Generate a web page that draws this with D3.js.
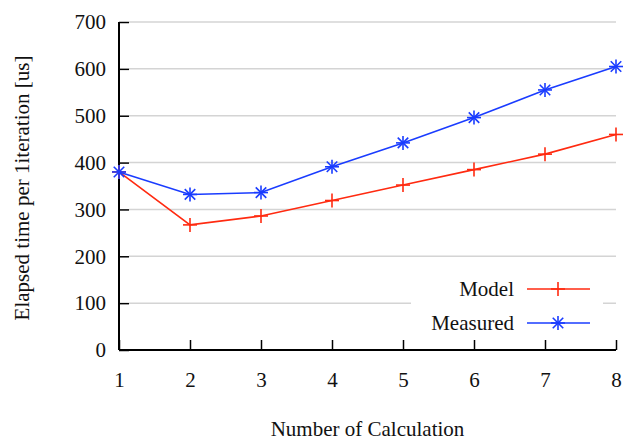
<!DOCTYPE html>
<html>
<head>
<meta charset="utf-8">
<script src="https://cdn.jsdelivr.net/npm/d3@7"></script>
<style>
  body { margin: 0; background: #fff; }
  svg text { font-family: "Liberation Serif", "Times New Roman", serif; fill: #111; }
</style>
</head>
<body>
<div id="chart"></div>
<script>
var calcs = [1, 2, 3, 4, 5, 6, 7, 8];
var model = [380, 267, 286, 319, 352, 385, 418, 460];
var measured = [380, 332, 336, 391, 442, 496, 555, 605];
var yTicks = [0, 100, 200, 300, 400, 500, 600, 700];

var width = 631, height = 440;
var mLeft = 119, mRight = 616, mTop = 22, mBottom = 350;
var fs = 21;

var svg = d3.select("#chart").append("svg")
    .attr("width", width)
    .attr("height", height)
    .attr("font-family", "Liberation Serif, serif");

var x = d3.scaleLinear().domain([1, 8]).range([mLeft, mRight]);
var y = d3.scaleLinear().domain([0, 700]).range([mBottom, mTop]);

// grid lines
svg.append("g").selectAll("line")
    .data(yTicks.slice(1))
    .enter().append("line")
    .attr("x1", mLeft + 10).attr("x2", mRight)
    .attr("y1", function(d) { return y(d); })
    .attr("y2", function(d) { return y(d); })
    .attr("stroke", "#d4d4d4")
    .attr("stroke-width", 1.5);

// axes
var yAxis = d3.axisLeft(y).tickValues(yTicks).tickSize(-10).tickPadding(13);
var gy = svg.append("g").attr("transform", "translate(" + mLeft + ",0)").call(yAxis);

var xAxis = d3.axisBottom(x).tickValues(calcs).tickSize(-10).tickPadding(22).tickFormat(d3.format("d"));
var gx = svg.append("g").attr("transform", "translate(0," + mBottom + ")").call(xAxis);

[gx, gy].forEach(function(g) {
    g.attr("font-size", null).attr("font-family", "Liberation Serif, serif");
    g.select(".domain").attr("stroke", "#000").attr("stroke-width", 2);
    g.selectAll(".tick line").attr("stroke", "#000").attr("stroke-width", 1.5);
    g.selectAll(".tick text").attr("font-size", fs).attr("fill", "#111");
});
gx.select(".domain").attr("d", "M" + mLeft + ",0H" + mRight);
gy.select(".domain").attr("d", "M0," + mBottom + "V" + mTop);

// axis titles
svg.append("text")
    .attr("x", (mLeft + mRight) / 2)
    .attr("y", 436)
    .attr("text-anchor", "middle")
    .attr("font-size", fs)
    .text("Number of Calculation");

svg.append("text")
    .attr("transform", "translate(29,188) rotate(-90)")
    .attr("text-anchor", "middle")
    .attr("font-size", fs)
    .text("Elapsed time per 1iteration [us]");

var series = [
    { name: "Model", values: model, color: "#ff2a10", marker: "plus" },
    { name: "Measured", values: measured, color: "#1a3cff", marker: "star" }
];

var line = d3.line()
    .x(function(d, i) { return x(calcs[i]); })
    .y(function(d) { return y(d); });

function drawMarker(g, cx, cy, type, color) {
    var s = 7;
    var segs = [[-s, 0, s, 0], [0, -s, 0, s]];
    if (type === "star") {
        var k = s * 0.75;
        segs.push([-k, -k, k, k], [-k, k, k, -k]);
    }
    segs.forEach(function(sg) {
        g.append("line")
            .attr("x1", cx + sg[0]).attr("y1", cy + sg[1])
            .attr("x2", cx + sg[2]).attr("y2", cy + sg[3])
            .attr("stroke", color).attr("stroke-width", 1.6);
    });
}

// legend box (white background interrupting the grid)
svg.append("rect")
    .attr("x", 411).attr("y", 272)
    .attr("width", 192).attr("height", 68)
    .attr("fill", "#fff");

series.forEach(function(s, si) {
    var g = svg.append("g");
    g.append("path")
        .datum(s.values)
        .attr("d", line)
        .attr("fill", "none")
        .attr("stroke", s.color)
        .attr("stroke-width", 1.6);
    s.values.forEach(function(v, i) {
        drawMarker(g, x(calcs[i]), y(v), s.marker, s.color);
    });

    var ly = 289 + si * 34;
    svg.append("text")
        .attr("x", 514).attr("y", ly)
        .attr("dy", "0.35em")
        .attr("text-anchor", "end")
        .attr("font-size", fs)
        .text(s.name);
    svg.append("line")
        .attr("x1", 527).attr("x2", 590)
        .attr("y1", ly).attr("y2", ly)
        .attr("stroke", s.color).attr("stroke-width", 1.6);
    drawMarker(svg, 558, ly, s.marker, s.color);
});
</script>
</body>
</html>
